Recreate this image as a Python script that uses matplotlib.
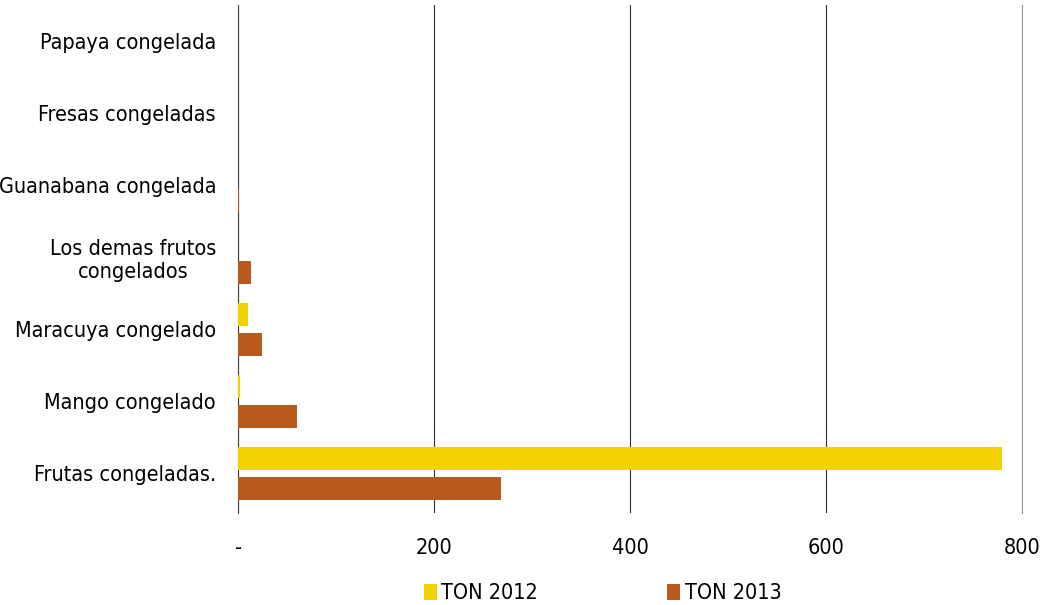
import matplotlib.pyplot as plt
import numpy as np

# categories from bottom to top
categories = ["Frutas congeladas.", "Mango congelado", "Maracuya congelado",
              "Los demas frutos\ncongelados", "Guanabana congelada",
              "Fresas congeladas", "Papaya congelada"]
ton_2012 = [780, 2, 10, 0, 0, 0, 0]
ton_2013 = [268, 60, 24, 13, 1, 0, 0]
x_ticks = [0, 200, 400, 600, 800]
x_tick_labels = ["-", "200", "400", "600", "800"]

plt.rcParams['font.family'] = ['DejaVu Sans']
plt.rcParams['font.stretch'] = 'condensed'

fig = plt.figure(figsize=(10.45, 6.05), dpi=100)
ax = fig.add_axes([0.228, 0.152, 0.75, 0.84])

y = np.arange(len(categories))
h = 0.32
off = 0.21
ax.barh(y + off, ton_2012, height=h, color="#f2d200", linewidth=0, label="TON 2012", zorder=3)
ax.barh(y - off, ton_2013, height=h, color="#b85a1c", linewidth=0, label="TON 2013", zorder=3)

ax.set_xlim(0, 800)
ax.set_ylim(-0.55, 6.5)
ax.set_yticks(y)
ax.set_yticklabels(categories, fontsize=15.5, multialignment="center")
ax.set_xticks(x_ticks)
ax.set_xticklabels(x_tick_labels, fontsize=15.5)
ax.tick_params(axis="both", length=0)
ax.tick_params(axis="x", pad=18)
ax.tick_params(axis="y", pad=16)

ax.grid(axis="x", color="#333333", linewidth=0.8, zorder=0)
for s in ["top", "bottom"]:
    ax.spines[s].set_visible(False)
ax.spines["right"].set_color("#999999")
ax.spines["left"].set_color("#444444")

ax.legend(loc="upper center", bbox_to_anchor=(0.465, -0.1), ncol=2, frameon=False,
          fontsize=15.5, handlelength=0.6, handleheight=0.8, handletextpad=0.2, columnspacing=6)

fig.savefig("out.png", dpi=100)
